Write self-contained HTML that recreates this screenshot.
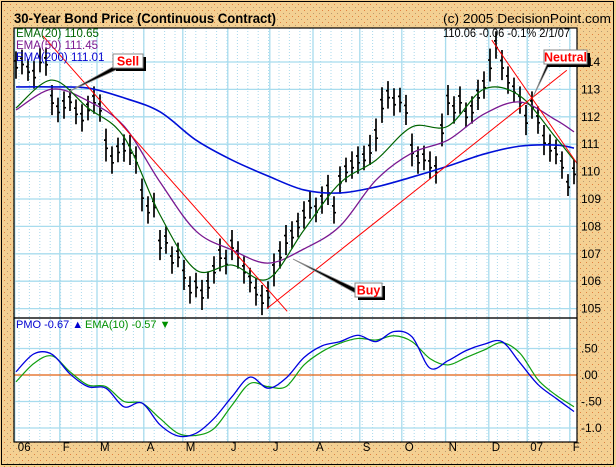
<!DOCTYPE html>
<html><head><meta charset="utf-8"><style>
html,body{margin:0;padding:0;background:#f4d092;}
svg{display:block;font-family:"Liberation Sans",sans-serif;}
</style></head><body>
<svg id="chart" width="616" height="467" viewBox="0 0 616 467" xmlns="http://www.w3.org/2000/svg">
<defs>
<pattern id="dots" width="6" height="6" patternUnits="userSpaceOnUse"><rect width="6" height="6" fill="#f4d092"/><rect x="1" y="1" width="1" height="1" fill="#b89a70"/><rect x="4" y="4" width="1" height="1" fill="#e08040"/></pattern>
</defs>
<rect x="0" y="0" width="616" height="467" fill="url(#dots)"/>
<rect x="1.5" y="1.5" width="612" height="463" fill="none" stroke="#000" stroke-width="1"/>
<text x="14" y="23" font-size="14" font-weight="bold" fill="#000" textLength="262" lengthAdjust="spacingAndGlyphs">30-Year Bond Price (Continuous Contract)</text>
<text x="443" y="23" font-size="12.5" fill="#000" textLength="168" lengthAdjust="spacingAndGlyphs">(c) 2005 DecisionPoint.com</text>
<rect x="14" y="28" width="563" height="290" fill="#fff"/>
<rect x="14" y="318" width="563" height="124" fill="#fff"/>
<g id="grid"></g>
<g id="marks"></g>
<rect x="14" y="28" width="563" height="290" fill="none" stroke="#000" stroke-width="1.2"/>
<rect x="14" y="318" width="563" height="124" fill="none" stroke="#000" stroke-width="1.2"/>
<text x="443" y="37" font-size="11.5" fill="#000" textLength="127" lengthAdjust="spacingAndGlyphs">110.06  -0.06  -0.1%  2/1/07</text>
<text x="16" y="37" font-size="11.5" fill="#006400">EMA(20) 110.65</text>
<text x="16" y="49" font-size="11.5" fill="#7a1890">EMA(50) 111.45</text>
<text x="16" y="61" font-size="11.5" fill="#0000d0">EMA(200) 111.01</text>
<text x="16" y="328" font-size="11" fill="#0000d0">PMO  -0.67 ▲</text>
<text x="85" y="328" font-size="11" fill="#009000">EMA(10)  -0.57 ▼</text>
<g id="notes"></g>
</svg>
<script>
// ---- data ----
const closes=[113.89,114.00,113.71,113.53,114.07,114.00,112.61,112.25,112.43,112.61,112.18,111.96,112.32,112.61,112.32,110.97,110.42,110.79,110.86,110.79,110.42,109.15,108.60,108.78,107.32,107.50,106.77,106.96,106.23,105.68,105.86,105.50,105.86,106.41,106.96,106.70,107.32,106.96,106.41,106.04,105.61,105.31,105.50,106.41,106.96,107.50,107.69,108.05,108.42,108.78,108.60,108.96,109.33,108.60,109.69,110.06,110.24,110.42,110.50,110.79,111.34,112.43,112.80,112.54,112.61,112.25,110.79,110.42,110.50,110.24,110.06,111.52,112.61,112.25,112.61,112.07,112.25,112.80,113.16,113.89,114.62,113.89,113.34,112.98,112.61,111.88,112.43,111.88,111.15,110.86,110.72,110.24,109.51,109.99];
const barRange=[0.5,0.45,0.4,0.5,0.45,0.5,0.55,0.45,0.5,0.4,0.45,0.5,0.45,0.5,0.5,0.6,0.5,0.45,0.5,0.55,0.5,0.6,0.5,0.45,0.55,0.5,0.5,0.45,0.55,0.5,0.45,0.55,0.5,0.5,0.6,0.45,0.55,0.5,0.5,0.45,0.5,0.55,0.5,0.6,0.5,0.55,0.5,0.45,0.5,0.5,0.45,0.5,0.55,0.5,0.5,0.45,0.5,0.5,0.45,0.55,0.6,0.65,0.5,0.5,0.45,0.55,0.6,0.5,0.45,0.5,0.5,0.6,0.55,0.5,0.5,0.45,0.5,0.55,0.5,0.6,0.5,0.55,0.5,0.45,0.5,0.55,0.5,0.5,0.55,0.5,0.45,0.5,0.4,0.45];
const emaIdx=[0,6,12,18,24,30,36,42,48,54,60,66,72,78,84,90,93];
const ema200=[113.09,113.09,113.05,112.69,112.18,111.15,110.42,109.84,109.33,109.22,109.44,109.80,110.20,110.64,110.93,110.97,110.86];
const ema50=[112.25,113.01,112.58,111.66,109.62,107.83,107.14,106.66,107.18,108.01,109.69,110.68,111.15,112.10,112.54,111.88,111.45];
const ema20=[112.32,113.34,112.32,111.26,108.42,106.41,106.59,106.08,107.87,109.58,110.42,111.63,111.66,113.01,112.76,111.23,110.42];
const pmoIdx=[0,3,6,9,12,15,18,21,24,27,30,33,36,39,42,45,48,51,54,57,60,63,66,69,72,75,78,81,84,87,90,93];
const pmo=[0.06,0.40,0.39,0.02,-0.22,-0.25,-0.60,-0.53,-0.94,-1.15,-1.10,-0.82,-0.41,-0.04,-0.25,-0.06,0.33,0.55,0.63,0.75,0.63,0.82,0.72,0.13,0.27,0.46,0.58,0.63,0.23,-0.18,-0.44,-0.69];
const pmoEma=[-0.13,0.22,0.36,0.06,-0.19,-0.22,-0.50,-0.53,-0.82,-1.10,-1.14,-1.01,-0.57,-0.16,-0.22,-0.22,0.19,0.44,0.60,0.69,0.66,0.74,0.63,0.31,0.19,0.33,0.47,0.61,0.41,-0.09,-0.38,-0.60];
const priceTicks=[105,106,107,108,109,110,111,112,113,114];
const pmoTicks=[0.5,0,-0.5,-1.0];
const pmoTickLabels=[".50",".00","-.50","-1.0"];
const monthLabels=["06","F","M","A","M","J","J","A","S","O","N","D","07","F"];
const monthStartIdx=[-0.2,7.3,13.5,21.3,27.8,35.3,42.3,49.5,57.3,64.3,71.6,78.8,85.2,92.3];
const trendDown1=[4.5,114.95,45.2,104.9];
const trendUp=[41.8,105.0,91.8,113.7];
const trendDown2=[79.3,114.8,94,110.3];
// ---- scales ----
const NS="http://www.w3.org/2000/svg";
const xS=i=>16+i*6;
const yP=p=>62+(114-p)*27.4;
const yM=v=>375-v*53;
function mk(tag,attrs,parent){const e=document.createElementNS(NS,tag);for(const k in attrs)e.setAttribute(k,attrs[k]);parent.appendChild(e);return e;}
const grid=document.getElementById('grid'),marks=document.getElementById('marks'),notes=document.getElementById('notes');
for(let x=19;x<577;x+=10.4){
  const l=mk('line',{x1:x,x2:x,y1:28,y2:442,stroke:'#a8d8ec','stroke-width':1,'stroke-dasharray':'1,2'},grid);
  
  
}
monthStartIdx.forEach((m,k)=>{
  const x=xS(m);
  const l=mk('line',{x1:x,x2:x,y1:28,y2:442,stroke:'#a8dcee','stroke-width':1.3},grid);
  
  
  const t=mk('text',{x:x+3,y:451,'font-size':11.5,fill:'#000'},grid);t.textContent=monthLabels[k];
  
  
});
priceTicks.forEach(p=>{
  const y=yP(p);
  const l=mk('line',{x1:14,x2:577,y1:y,y2:y,stroke:'#a8dcee','stroke-width':1.3},grid);
  
  
  const t=mk('text',{x:581,y:y+4,'font-size':12,fill:'#000'},grid);t.textContent=p;
  
  
});
pmoTicks.forEach((v,k)=>{
  const y=yM(v);
  const l=mk('line',{x1:14,x2:577,y1:y,y2:y,stroke:v===0?'#e06010':'#a8dcee','stroke-width':1.3},grid);
  
  
  const t=mk('text',{x:581,y:y+4,'font-size':12,fill:'#000'},grid);t.textContent=pmoTickLabels[k];
  
  
});
closes.forEach((c,i)=>{
  const x=xS(i),r=barRange[i];
  const b=mk('path',{d:`M${x},${yP(c+r)}V${yP(c-r)}M${x-2},${yP(c+r*0.3)}H${x}M${x},${yP(c-r*0.2)}H${x+2}`,stroke:'#000','stroke-width':1.7,fill:'none'},marks);
  
  
});
function line(idx,vals,ys,color,name,w){
  const pts=idx.map((i,k)=>[xS(i),ys(vals[k])]);
  let d='M'+pts[0][0]+','+pts[0][1];
  for(let k=0;k<pts.length-1;k++){
    const p0=pts[Math.max(0,k-1)],p1=pts[k],p2=pts[k+1],p3=pts[Math.min(pts.length-1,k+2)];
    const c1=[p1[0]+(p2[0]-p0[0])/6,p1[1]+(p2[1]-p0[1])/6];
    const c2=[p2[0]-(p3[0]-p1[0])/6,p2[1]-(p3[1]-p1[1])/6];
    d+=`C${c1[0]},${c1[1]} ${c2[0]},${c2[1]} ${p2[0]},${p2[1]}`;
  }
  const p=mk('path',{d:d,stroke:color,'stroke-width':w,fill:'none','stroke-linejoin':'round'},marks);
  
  
}
line(emaIdx,ema200,yP,'#0010d8','ema200-line',1.6);
line(emaIdx,ema50,yP,'#7a1890','ema50-line',1.3);
line(emaIdx,ema20,yP,'#006400','ema20-line',1.2);
line(pmoIdx,pmoEma,yM,'#10a010','pmo-ema10-line',1.2);
line(pmoIdx,pmo,yM,'#0000e0','pmo-line',1.3);
function tl(t,name){
  const e=mk('line',{x1:xS(t[0]),y1:yP(t[1]),x2:Math.min(577,xS(t[2])),y2:yP(t[3]),stroke:'#ff0000','stroke-width':1},marks);
  
  
}
tl(trendDown1,'trendline-down-1');tl(trendUp,'trendline-up');tl(trendDown2,'trendline-down-2');
function note(label,bx,by,bw,px,py,ax,ay,name){
  const g=mk('g',{},notes);
  
  
  mk('polygon',{points:`${px},${py} ${ax},${ay-2} ${ax},${ay+3}`,fill:'#000',stroke:'#888','stroke-width':0.8},g);
  mk('rect',{x:bx+3,y:by+3,width:bw,height:14,fill:'#000'},g);
  mk('rect',{x:bx,y:by,width:bw,height:14,fill:'#fff',stroke:'#888','stroke-width':1},g);
  const t=mk('text',{x:bx+bw/2,y:by+11.5,'font-size':12.5,'font-weight':'bold',fill:'#f00','text-anchor':'middle'},g);t.textContent=label;
}
note('Sell',113,54,30,68,92,118,66,'sell-annotation');
note('Neutral',544,50,43,533,97,548,64,'neutral-annotation');
note('Buy',355,283,27,293,259,357,291,'buy-annotation');
</script>
</body></html>
